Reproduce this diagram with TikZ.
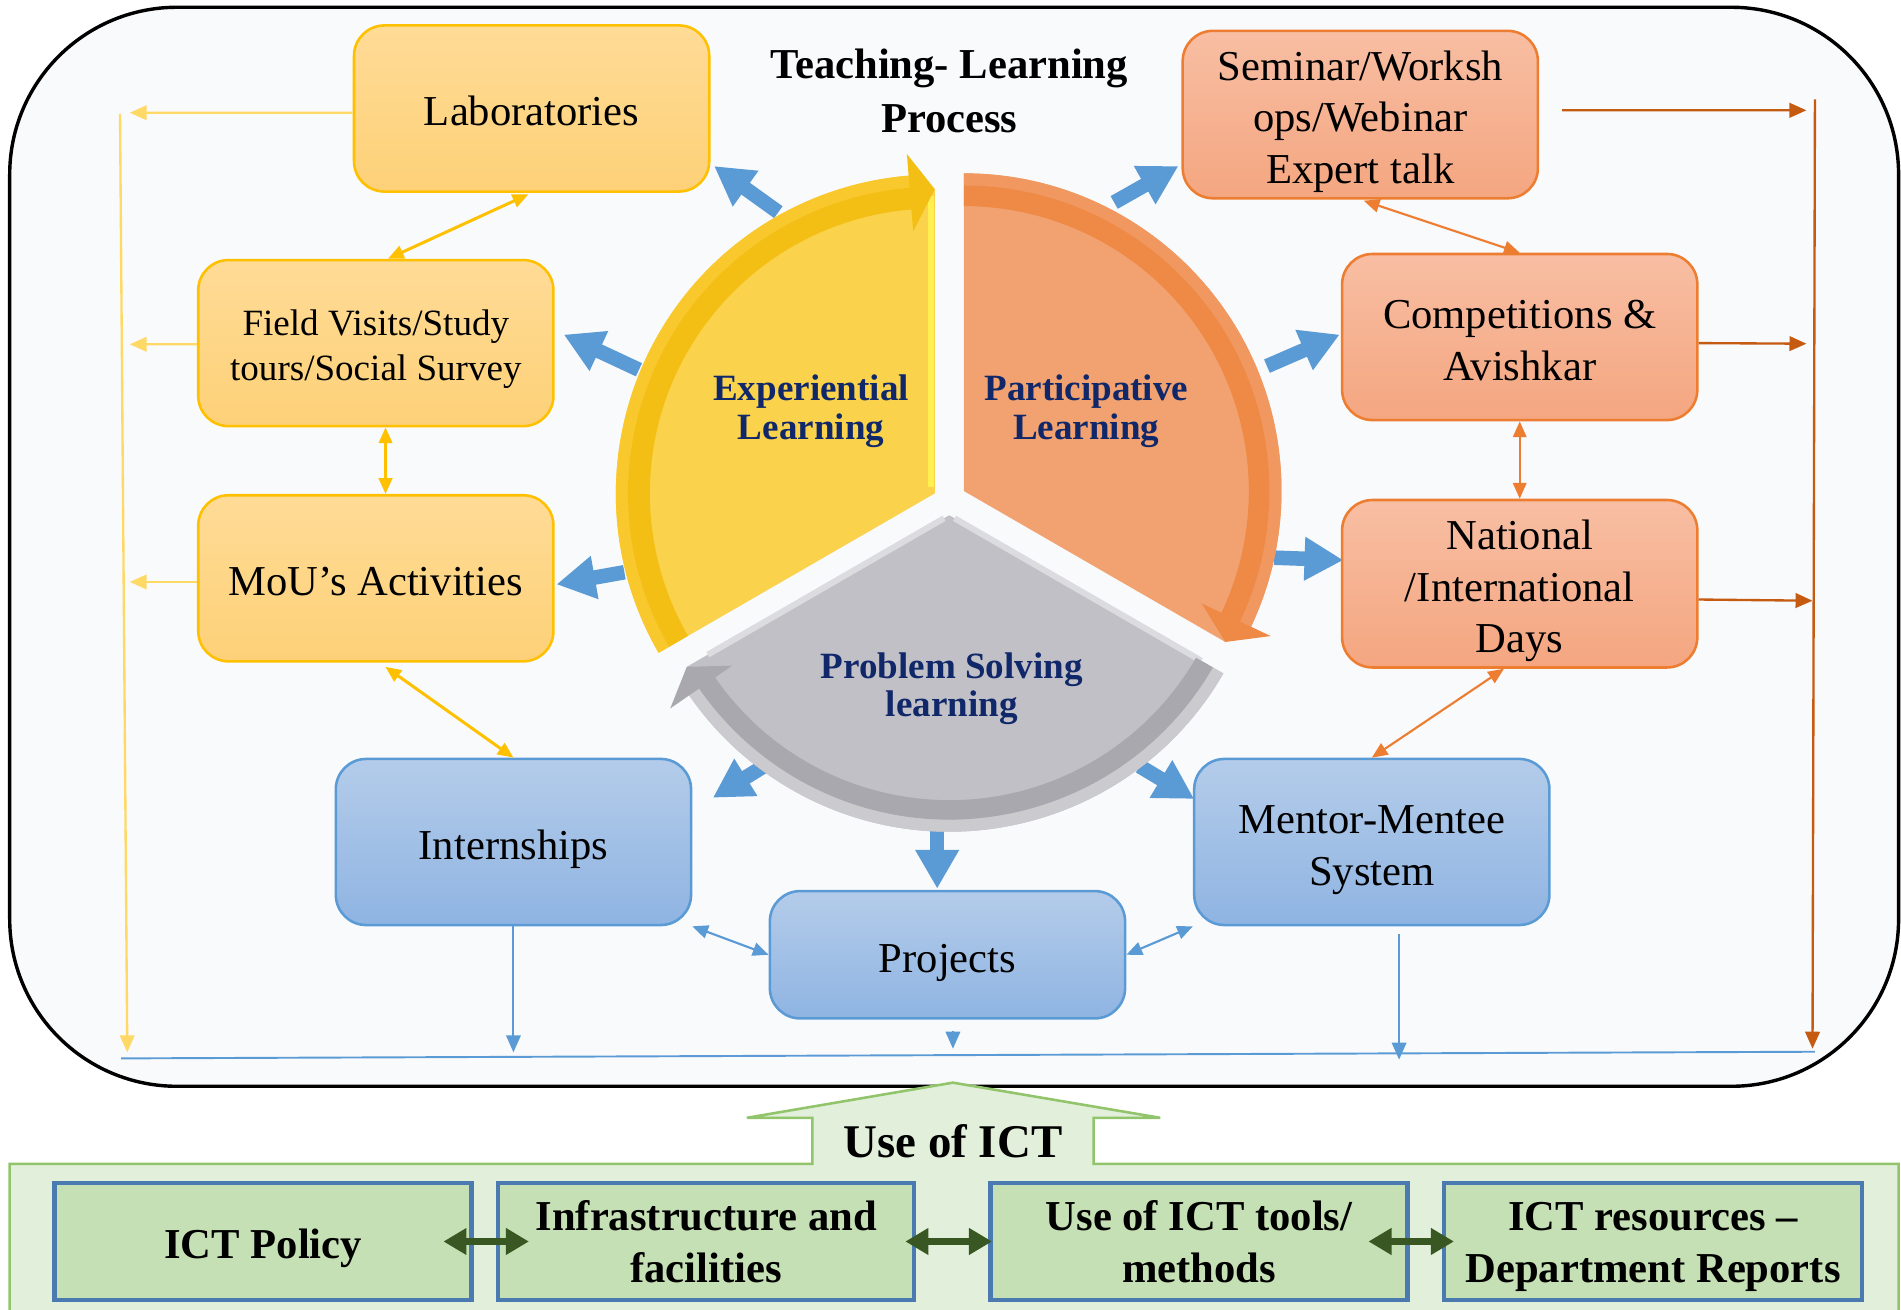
\documentclass[tikz,border=0pt]{standalone}
\usepackage{fontspec}
\setmainfont{Liberation Serif}
\usepackage{tikz}
\usetikzlibrary{arrows,arrows.meta}

\definecolor{bgfill}{RGB}{249,250,252}
\definecolor{ictfill}{RGB}{226,239,218}
\definecolor{ictline}{RGB}{146,196,108}
\definecolor{gfill}{RGB}{197,224,180}
\definecolor{gline}{RGB}{74,122,176}
\definecolor{garrow}{RGB}{56,87,35}
\definecolor{ytop}{RGB}{255,219,150}
\definecolor{ybot}{RGB}{253,209,120}
\definecolor{yline}{RGB}{255,192,0}
\definecolor{ylight}{RGB}{255,217,102}
\definecolor{otop}{RGB}{248,190,163}
\definecolor{obot}{RGB}{244,166,128}
\definecolor{oline}{RGB}{237,125,49}
\definecolor{odark}{RGB}{197,90,17}
\definecolor{btop}{RGB}{180,204,234}
\definecolor{bbot}{RGB}{143,180,226}
\definecolor{bline}{RGB}{91,155,213}
\definecolor{navy}{RGB}{16,40,105}
\definecolor{ybody}{RGB}{250,210,75}
\definecolor{yband}{RGB}{244,191,20}
\definecolor{yrim}{RGB}{248,200,45}
\definecolor{yedge}{RGB}{255,240,80}
\definecolor{obody}{RGB}{242,162,112}
\definecolor{oband}{RGB}{238,137,70}
\definecolor{orim}{RGB}{240,152,95}
\definecolor{pbody}{RGB}{193,192,198}
\definecolor{pband}{RGB}{168,168,174}
\definecolor{prim}{RGB}{202,202,207}
\definecolor{pedge}{RGB}{220,220,224}

\begin{document}
\begin{tikzpicture}[every node/.style={font=\fontsize{10}{12.1}\selectfont, align=center, inner sep=1pt}]
        \useasboundingbox (0,0) rectangle (15.68,-10.805);
        \tikzset{ybox/.style={rectangle, rounded corners=0.25cm, draw=yline, line width=0.6pt, top color=ytop, bottom color=ybot, minimum width=2.93cm, minimum height=1.37cm, text height=10.6pt, text depth=2.5pt}}
        \tikzset{obox/.style={ybox, draw=oline, top color=otop, bottom color=obot}}
        \tikzset{bbox/.style={ybox, draw=bline, top color=btop, bottom color=bbot}}
        \tikzset{gbox/.style={rectangle, draw=gline, line width=1pt, fill=gfill, minimum width=3.44cm, minimum height=0.96cm, font=\fontsize{10}{12.2}\selectfont\bfseries, text height=10.6pt, text depth=2.5pt}}
        \tikzset{twolines/.style={text height=22.7pt}}
        \tikzset{threelines/.style={text height=34.8pt}}
        \tikzset{sector/.style={font=\fontsize{8.7}{9.1}\selectfont\bfseries, text=navy}}
        \tikzset{blk/.style={->, >={Triangle[length=0.32cm,width=0.34cm]}, draw=bline, line width=0.12cm}}
        \tikzset{yarr/.style={<->, >={Triangle[length=0.13cm,width=0.11cm]}, draw=yline, line width=0.7pt}}
        \tikzset{oarr/.style={yarr, draw=oline, line width=0.5pt}}
        \tikzset{barr/.style={yarr, draw=bline, line width=0.5pt}}
        \tikzset{garr/.style={<->, >={Triangle[length=0.19cm,width=0.21cm]}, draw=garrow, line width=0.06cm}}
        \tikzset{lline/.style={->, >={Triangle[length=0.14cm,width=0.12cm]}, draw=ylight, line width=0.55pt}}
        \tikzset{rline/.style={lline, draw=odark}}
        \tikzset{dline/.style={lline, draw=bline, line width=0.45pt}}
        % frame and ICT band
        \draw[line width=0.8pt, fill=bgfill, rounded corners=1.38cm] (0.08,-0.06) rectangle (15.66,-8.96);
        \draw[draw=ictline, fill=ictfill, line width=0.6pt] (0.08,-10.83) -- (0.08,-9.60) -- (6.70,-9.60) -- (6.70,-9.22) -- (6.16,-9.22) -- (7.86,-8.93) -- (9.57,-9.22) -- (9.02,-9.22) -- (9.02,-9.60) -- (15.66,-9.60) -- (15.66,-10.83);
        \node[font=\fontsize{11}{13}\selectfont\bfseries] (ict) at (7.86,-9.41) {Use of ICT};
        % block arrows out of the cycle
        \coordinate (fromlab) at (6.42,-1.75);   \coordinate (tolab) at (5.89,-1.37);
        \coordinate (fromfield) at (5.27,-3.05); \coordinate (tofield) at (4.65,-2.76);
        \coordinate (frommou) at (5.15,-4.72);   \coordinate (tomou) at (4.59,-4.82);
        \coordinate (fromint) at (6.30,-6.32);   \coordinate (toint) at (5.88,-6.58);
        \coordinate (fromproj) at (7.73,-6.85);  \coordinate (toproj) at (7.73,-7.33);
        \coordinate (frommen) at (9.40,-6.32);   \coordinate (tomen) at (9.85,-6.59);
        \coordinate (fromnat) at (10.51,-4.60);  \coordinate (tonat) at (11.08,-4.62);
        \coordinate (fromcomp) at (10.45,-3.02); \coordinate (tocomp) at (11.05,-2.76);
        \coordinate (fromsem) at (9.19,-1.67);   \coordinate (tosem) at (9.72,-1.37);
        \path (fromlab) edge [blk] (tolab);
        \path (fromfield) edge [blk] (tofield);
        \path (frommou) edge [blk] (tomou);
        \path (fromint) edge [blk] (toint);
        \path (fromproj) edge [blk] (toproj);
        \path (frommen) edge [blk] (tomen);
        \path (fromnat) edge [blk] (tonat);
        \path (fromcomp) edge [blk] (tocomp);
        \path (fromsem) edge [blk] (tosem);
        % experiential
        \begin{scope}[shift={(7.71,-4.07)}]
          \fill[ybody] (0,0) -- (210:2.63) arc[start angle=210, end angle=94.7, radius=2.63] -- (90:2.51) -- cycle;
          \draw[yedge, line width=0.05cm] (-0.03,0.05) -- (-0.03,2.45);
          \fill[yrim] (210:2.63) arc[start angle=210, end angle=94.7, radius=2.63] -- (94.7:2.53) arc[start angle=94.7, end angle=210, radius=2.53] -- cycle;
          \fill[yband] (210:2.53) arc[start angle=210, end angle=94.7, radius=2.53] -- (94.7:2.81) -- (90:2.51) -- (94.7:2.17) -- (94.7:2.35) arc[start angle=94.7, end angle=210, radius=2.35] -- cycle;
        \end{scope}
        % participative
        \begin{scope}[shift={(7.95,-4.05)}]
          \fill[obody] (0,0) -- (90:2.62) arc[start angle=90, end angle=-25.3, radius=2.62] -- (-30:2.49) -- cycle;
          \fill[orim] (90:2.62) arc[start angle=90, end angle=-25.3, radius=2.62] -- (-25.3:2.52) arc[start angle=-25.3, end angle=90, radius=2.52] -- cycle;
          \fill[oband] (90:2.52) arc[start angle=90, end angle=-25.3, radius=2.52] -- (-25.3:2.80) -- (-30:2.49) -- (-25.3:2.17) -- (-25.3:2.35) arc[start angle=-25.3, end angle=90, radius=2.35] -- cycle;
        \end{scope}
        % problem solving
        \begin{scope}[shift={(7.83,-4.25)}]
          \fill[pbody] (0,0) -- (-30:2.61) arc[start angle=-30, end angle=-145.3, radius=2.61] -- (-150:2.50) -- cycle;
          \draw[pedge, line width=0.05cm] (-30:0.05) -- (-30:2.40);
          \draw[pedge, line width=0.05cm] (-150:0.05) -- (-150:2.30);
          \fill[prim] (-30:2.61) arc[start angle=-30, end angle=-145.3, radius=2.61] -- (-145.3:2.51) arc[start angle=-145.3, end angle=-30, radius=2.51] -- cycle;
          \fill[pband] (-30:2.51) arc[start angle=-30, end angle=-145.3, radius=2.51] -- (-145.3:2.80) -- (-150:2.50) -- (-145.3:2.18) -- (-145.3:2.35) arc[start angle=-145.3, end angle=-30, radius=2.35] -- cycle;
        \end{scope}
        \node[sector] (exp) at (6.69,-3.39) {Experiential\\Learning};
        \node[sector] (part) at (8.96,-3.39) {Participative\\Learning};
        \node[sector] (prob) at (7.85,-5.68) {Problem Solving\\learning};
        \node[font=\fontsize{10}{12.5}\selectfont\bfseries] (title) at (7.83,-0.75) {Teaching- Learning\\Process};
        % boxes
        \node[ybox] (lab) at (4.385,-0.895) {Laboratories};
        \node[ybox, font=\fontsize{8.7}{10.5}\selectfont, text height=19.7pt, text depth=2.2pt] (field) at (3.10,-2.83) {Field Visits/Study\\tours/Social Survey};
        \node[ybox] (mou) at (3.10,-4.77) {MoU’s Activities};
        \node[obox, threelines] (sem) at (11.22,-0.945) {Seminar/Worksh\\ops/Webinar\\Expert talk};
        \node[obox, twolines] (comp) at (12.535,-2.78) {Competitions \&\\Avishkar};
        \node[obox, threelines] (natl) at (12.535,-4.815) {National\\/International\\Days};
        \node[bbox] (intern) at (4.235,-6.945) {Internships};
        \node[bbox, twolines] (mentor) at (11.315,-6.945) {Mentor-Mentee\\System};
        \node[bbox, minimum height=1.05cm] (proj) at (7.815,-7.875) {Projects};
        \node[gbox] (pol) at (2.17,-10.24) {ICT Policy};
        \node[gbox, text height=21.6pt, minimum width=3.43cm] (infra) at (5.825,-10.24) {Infrastructure and\\facilities};
        \node[gbox, text height=21.6pt] (tools) at (9.89,-10.24) {Use of ICT tools/\\methods};
        \node[gbox, text height=21.6pt, minimum width=3.45cm] (res) at (13.635,-10.24) {ICT resources –\\Department Reports};
        % links between boxes
        \path (lab.south) edge [yarr, shorten <=0.03cm] ([xshift=0.1cm]field.north);
        \path ([xshift=0.08cm]field.south) edge [yarr] ([xshift=0.08cm]mou.north);
        \path ([xshift=0.03cm]mou.south) edge [yarr, shorten <=0.06cm] (intern.north);
        \path (sem.south) edge [oarr, shorten <=0.03cm] (comp.north);
        \path (comp.south) edge [oarr] (natl.north);
        \path ([xshift=-0.13cm]natl.south) edge [oarr] (mentor.north);
        \path (intern.south east) edge [barr] (proj.west);
        \path (proj.east) edge [barr] (mentor.south west);
        \path (pol) edge [garr, shorten <=-0.25cm, shorten >=-0.27cm] (infra);
        \path (infra) edge [garr, shorten <=-0.09cm, shorten >=-0.03cm] (tools);
        \path (tools) edge [garr, shorten <=-0.34cm, shorten >=-0.10cm] (res);
        % side rails
        \coordinate (lt) at (0.99,-0.94);
        \coordinate (lb) at (1.05,-8.68);
        \coordinate (rt) at (14.97,-0.82);
        \coordinate (rb) at (14.95,-8.65);
        \coordinate (hl) at (1.00,-8.73);
        \coordinate (hr) at (14.97,-8.675);
        \path (lt) edge [lline] (lb);
        \path ([yshift=-0.035cm]lab.west) edge [lline] (1.07,-0.93);
        \path ([yshift=-0.01cm]field.west) edge [lline] (1.07,-2.84);
        \path ([yshift=-0.03cm]mou.west) edge [lline] (1.07,-4.80);
        \path (rt) edge [rline] (rb);
        \path ([xshift=0.19cm,yshift=0.035cm]sem.east) edge [rline] (14.90,-0.91);
        \path ([yshift=-0.05cm]comp.east) edge [rline] (14.90,-2.835);
        \path ([yshift=-0.13cm]natl.east) edge [rline] (14.95,-4.955);
        \draw[bline, line width=0.45pt] (hl) -- (hr);
        \path (intern.south) edge [dline] (4.235,-8.68);
        \coordinate (pt) at (7.86,-8.50);
        \coordinate (pb) at (7.86,-8.65);
        \path (pt) edge [dline] (pb);
        \coordinate (mt) at (11.54,-7.70);
        \coordinate (mb) at (11.54,-8.74);
        \path (mt) edge [dline] (mb);
      \end{tikzpicture}
\end{document}
